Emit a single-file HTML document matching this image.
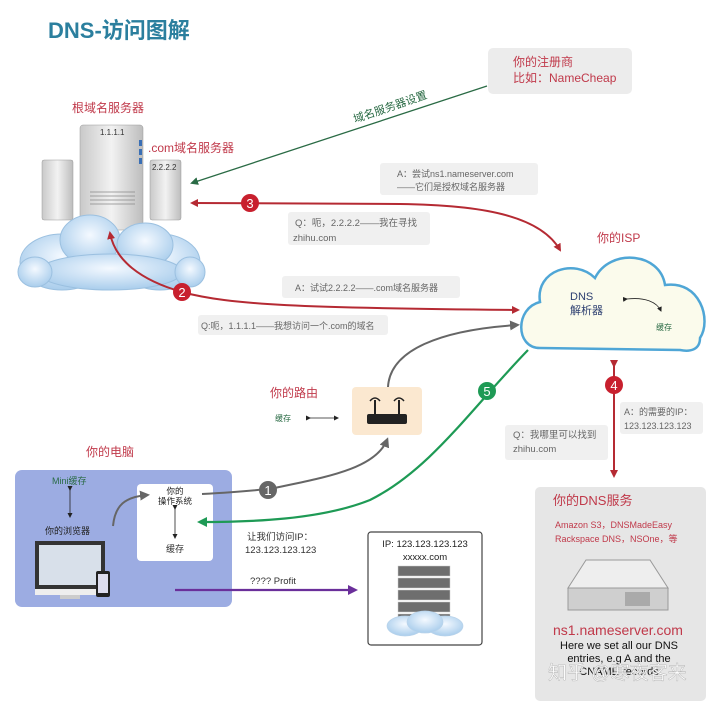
<!DOCTYPE html>
<html><head><meta charset="utf-8"><style>
body{margin:0;background:#fff}
svg{display:block;font-family:"Liberation Sans","Noto Sans CJK SC",sans-serif}
</style></head><body>
<svg width="720" height="701" viewBox="0 0 720 701" xmlns="http://www.w3.org/2000/svg">
<defs>
<marker id="ar" markerWidth="8" markerHeight="8" refX="6" refY="4" orient="auto" markerUnits="userSpaceOnUse"><path d="M0,0 L8,4 L0,8 Z" fill="#b52a33"/></marker>
<marker id="ag" markerWidth="8" markerHeight="8" refX="6" refY="4" orient="auto" markerUnits="userSpaceOnUse"><path d="M0,0 L8,4 L0,8 Z" fill="#2a6b45"/></marker>
<marker id="ag2" markerWidth="10" markerHeight="10" refX="7" refY="5" orient="auto" markerUnits="userSpaceOnUse"><path d="M0,0 L10,5 L0,10 Z" fill="#1e9a55"/></marker>
<marker id="ay" markerWidth="10" markerHeight="10" refX="7" refY="5" orient="auto" markerUnits="userSpaceOnUse"><path d="M0,0 L10,5 L0,10 Z" fill="#666"/></marker>
<marker id="ap" markerWidth="10" markerHeight="10" refX="7" refY="5" orient="auto" markerUnits="userSpaceOnUse"><path d="M0,0 L10,5 L0,10 Z" fill="#6a2f9a"/></marker>
<marker id="ak" markerWidth="5" markerHeight="5" refX="4" refY="2.5" orient="auto" markerUnits="userSpaceOnUse"><path d="M0,0 L5,2.5 L0,5 Z" fill="#222"/></marker>
<linearGradient id="sv" x1="0" x2="1"><stop offset="0" stop-color="#c9c9c9"/><stop offset=".5" stop-color="#f2f2f2"/><stop offset="1" stop-color="#bdbdbd"/></linearGradient>
<radialGradient id="cl" cx=".5" cy=".4" r=".6"><stop offset="0" stop-color="#f4f9ff"/><stop offset="1" stop-color="#a9cdec"/></radialGradient>
</defs>

<text x="48" y="38" font-size="22" font-weight="bold" fill="#2b7f9e">DNS-访问图解</text>

<rect x="488" y="48" width="144" height="46" rx="5" fill="#ececec"/>
<text x="513" y="66" font-size="12" fill="#c0394a">你的注册商</text>
<text x="513" y="82" font-size="12" fill="#c0394a">比如：NameCheap</text>
<line x1="487" y1="86" x2="192" y2="183" stroke="#2a6b45" stroke-width="1.3" marker-end="url(#ag)"/>
<text x="355" y="123" font-size="11" fill="#2a6b45" transform="rotate(-19 355 123)">域名服务器设置</text>

<text x="72" y="112" font-size="12" fill="#c0394a">根域名服务器</text>
<text x="148" y="152" font-size="12" fill="#c0394a">.com域名服务器</text>
<rect x="42" y="160" width="31" height="60" rx="2" fill="url(#sv)" stroke="#999" stroke-width=".5"/>
<rect x="150" y="160" width="31" height="60" rx="2" fill="url(#sv)" stroke="#999" stroke-width=".5"/>
<text x="152" y="170" font-size="8" fill="#333">2.2.2.2</text>
<rect x="80" y="125" width="63" height="105" rx="3" fill="url(#sv)" stroke="#999" stroke-width=".5"/>
<text x="100" y="135" font-size="8" fill="#333">1.1.1.1</text>
<rect x="139" y="140" width="3" height="6" fill="#3a6fb5"/><rect x="139" y="149" width="3" height="6" fill="#3a6fb5"/><rect x="139" y="158" width="3" height="6" fill="#3a6fb5"/>
<g stroke="#888" stroke-width=".8"><line x1="90" y1="192" x2="135" y2="192"/><line x1="90" y1="196" x2="135" y2="196"/><line x1="90" y1="200" x2="135" y2="200"/><line x1="90" y1="204" x2="135" y2="204"/></g>
<g fill="url(#cl)" stroke="#9bc0e0" stroke-width="1">
<ellipse cx="62" cy="262" rx="42" ry="28"/><ellipse cx="160" cy="262" rx="40" ry="28"/>
<ellipse cx="90" cy="240" rx="30" ry="25"/><ellipse cx="145" cy="245" rx="28" ry="22"/>
<ellipse cx="110" cy="272" rx="72" ry="18"/><ellipse cx="35" cy="272" rx="17" ry="15"/><ellipse cx="190" cy="272" rx="15" ry="15"/>
</g>

<rect x="380" y="163" width="158" height="32" rx="3" fill="#f0f0f0"/>
<text x="397" y="177" font-size="9" fill="#666">A：尝试ns1.nameserver.com</text>
<text x="397" y="190" font-size="9" fill="#666">——它们是授权域名服务器</text>
<path d="M400,204 L192,203" fill="none" stroke="#b52a33" stroke-width="2" marker-end="url(#ar)"/>
<path d="M400,204 C480,205 540,215 560,250" fill="none" stroke="#b52a33" stroke-width="2" marker-end="url(#ar)"/>
<circle cx="250" cy="203" r="9" fill="#c8202e"/><text x="250" y="208" font-size="13" fill="#fff" text-anchor="middle">3</text>
<rect x="288" y="212" width="142" height="33" rx="3" fill="#f0f0f0"/>
<text x="295" y="226" font-size="9.5" fill="#666">Q：呃，2.2.2.2——我在寻找</text>
<text x="293" y="241" font-size="9.5" fill="#666">zhihu.com</text>

<text x="597" y="242" font-size="12" fill="#c0394a">你的ISP</text>
<path d="M540,348 C515,348 515,308 540,302 C535,270 575,258 595,278 C610,248 660,252 665,285 C700,280 712,320 700,338 C700,350 690,352 680,350 Z" fill="#fbfbec" stroke="#4fa6d6" stroke-width="2.5"/>
<text x="570" y="300" font-size="11" fill="#2c3e70">DNS</text>
<text x="570" y="314" font-size="11" fill="#2c3e70">解析器</text>
<path d="M627,299 C645,297 657,302 661,311" fill="none" stroke="#222" stroke-width=".8" marker-end="url(#ak)" marker-start="url(#ak)"/>
<text x="656" y="330" font-size="8" fill="#2a6b45">缓存</text>

<rect x="282" y="276" width="178" height="22" rx="3" fill="#f0f0f0"/>
<text x="295" y="291" font-size="9" fill="#666">A：试试2.2.2.2——.com域名服务器</text>
<path d="M182,292 C140,280 115,260 110,233" fill="none" stroke="#b52a33" stroke-width="2" marker-end="url(#ar)"/>
<path d="M182,292 C230,305 300,308 518,310" fill="none" stroke="#b52a33" stroke-width="2" marker-end="url(#ar)"/>
<circle cx="182" cy="292" r="9" fill="#c8202e"/><text x="182" y="297" font-size="13" fill="#fff" text-anchor="middle">2</text>
<rect x="198" y="315" width="190" height="20" rx="3" fill="#f0f0f0"/>
<text x="201" y="329" font-size="9" fill="#666">Q:呃，1.1.1.1——我想访问一个.com的域名</text>

<path d="M388,387 C390,350 440,330 517,325" fill="none" stroke="#666" stroke-width="2" marker-end="url(#ay)"/>
<text x="270" y="397" font-size="12" fill="#c0394a">你的路由</text>
<text x="275" y="421" font-size="8" fill="#2a6b45">缓存</text>
<line x1="310" y1="418" x2="338" y2="418" stroke="#222" stroke-width=".8" marker-end="url(#ak)" marker-start="url(#ak)"/>
<rect x="352" y="387" width="70" height="48" rx="4" fill="#fbe8d0"/>
<rect x="367" y="414" width="40" height="10" rx="2" fill="#222"/>
<line x1="375" y1="414" x2="375" y2="400" stroke="#222" stroke-width="2"/><line x1="399" y1="414" x2="399" y2="400" stroke="#222" stroke-width="2"/>
<path d="M370,401 Q375,395 380,401 M394,401 Q399,395 404,401" fill="none" stroke="#222" stroke-width="1.5"/>

<line x1="614" y1="366" x2="614" y2="476" stroke="#b52a33" stroke-width="2" marker-end="url(#ar)" marker-start="url(#ar)"/>
<circle cx="614" cy="385" r="9" fill="#c8202e"/><text x="614" y="390" font-size="13" fill="#fff" text-anchor="middle">4</text>
<rect x="620" y="402" width="83" height="32" rx="3" fill="#f0f0f0"/>
<text x="624" y="415" font-size="9" fill="#666">A：的需要的IP：</text>
<text x="624" y="429" font-size="9" fill="#666">123.123.123.123</text>
<rect x="505" y="425" width="103" height="35" rx="3" fill="#f0f0f0"/>
<text x="513" y="438" font-size="9.5" fill="#666">Q：我哪里可以找到</text>
<text x="513" y="452" font-size="9.5" fill="#666">zhihu.com</text>

<text x="86" y="456" font-size="12" fill="#c0394a">你的电脑</text>
<rect x="15" y="470" width="217" height="137" rx="7" fill="#9cace2"/>
<text x="52" y="484" font-size="9" fill="#2a6b45">Mini缓存</text>
<line x1="70" y1="490" x2="70" y2="517" stroke="#222" stroke-width=".8" marker-end="url(#ak)" marker-start="url(#ak)"/>
<text x="45" y="534" font-size="9" fill="#222">你的浏览器</text>
<rect x="35" y="541" width="70" height="48" fill="#333"/><rect x="39" y="545" width="62" height="40" fill="#d8e0ea"/>
<rect x="35" y="589" width="70" height="6" fill="#eee"/><rect x="60" y="595" width="20" height="4" fill="#ccc"/>
<rect x="96" y="571" width="14" height="26" rx="2" fill="#222"/><rect x="98" y="574" width="10" height="19" fill="#dde"/>
<rect x="137" y="484" width="76" height="77" rx="4" fill="#fff"/>
<text x="175" y="494" font-size="8.5" fill="#222" text-anchor="middle">你的</text>
<text x="175" y="504" font-size="8.5" fill="#222" text-anchor="middle">操作系统</text>
<line x1="175" y1="509" x2="175" y2="538" stroke="#222" stroke-width=".8" marker-end="url(#ak)" marker-start="url(#ak)"/>
<text x="175" y="552" font-size="9" fill="#333" text-anchor="middle">缓存</text>
<path d="M113,526 C115,505 125,497 147,495" fill="none" stroke="#666" stroke-width="2" marker-end="url(#ay)"/>
<path d="M202,494 C240,492 260,490 275,488 C320,478 375,470 387,440" fill="none" stroke="#666" stroke-width="2" marker-end="url(#ay)"/>
<circle cx="268" cy="490" r="9" fill="#666"/><text x="268" y="495" font-size="13" fill="#fff" text-anchor="middle">1</text>

<path d="M528,350 C470,410 430,470 370,500 C320,520 250,522 200,522" fill="none" stroke="#1e9a55" stroke-width="2.2" marker-end="url(#ag2)"/>
<circle cx="487" cy="391" r="9" fill="#1e9a55"/><text x="487" y="396" font-size="13" fill="#fff" text-anchor="middle">5</text>

<text x="247" y="540" font-size="9.5" fill="#333">让我们访问IP：</text>
<text x="245" y="553" font-size="9.5" fill="#333">123.123.123.123</text>
<text x="250" y="584" font-size="9.5" fill="#333">???? Profit</text>
<line x1="175" y1="590" x2="355" y2="590" stroke="#6a2f9a" stroke-width="2.2" marker-end="url(#ap)"/>

<rect x="368" y="532" width="114" height="113" rx="3" fill="#fff" stroke="#444" stroke-width="1.2"/>
<text x="425" y="547" font-size="9.5" fill="#222" text-anchor="middle">IP: 123.123.123.123</text>
<text x="425" y="560" font-size="9.5" fill="#222" text-anchor="middle">xxxxx.com</text>
<g fill="#6e6e6e" stroke="#ccc" stroke-width=".5">
<rect x="398" y="566" width="52" height="10"/><rect x="398" y="578" width="52" height="10"/><rect x="398" y="590" width="52" height="10"/><rect x="398" y="602" width="52" height="10"/><rect x="398" y="614" width="52" height="10"/></g>
<g fill="url(#cl)" stroke="#b9d3ea" stroke-width=".7"><ellipse cx="405" cy="626" rx="18" ry="10"/><ellipse cx="445" cy="626" rx="18" ry="10"/><ellipse cx="425" cy="622" rx="18" ry="11"/></g>

<rect x="535" y="487" width="171" height="214" rx="5" fill="#e6e6e6"/>
<text x="553" y="505" font-size="13" fill="#c0394a">你的DNS服务</text>
<text x="555" y="528" font-size="9" fill="#c0394a">Amazon S3，DNSMadeEasy</text>
<text x="555" y="542" font-size="9" fill="#c0394a">Rackspace DNS，NSOne，等</text>
<path d="M586,560 L650,560 L668,588 L568,588 Z" fill="#eee" stroke="#999"/>
<rect x="568" y="588" width="100" height="22" fill="#cfcfcf" stroke="#999"/>
<rect x="625" y="592" width="25" height="14" fill="#aaa"/>
<text x="618" y="635" font-size="14" fill="#c0394a" text-anchor="middle">ns1.nameserver.com</text>
<text x="619" y="649" font-size="11" fill="#111" text-anchor="middle">Here we set all our DNS</text>
<text x="619" y="662" font-size="11" fill="#111" text-anchor="middle">entries, e.g A and the</text>
<text x="619" y="675" font-size="11" fill="#111" text-anchor="middle">CNAME records</text>
<text x="548" y="679" font-size="19" fill="#fff" stroke="#aaa" stroke-width=".4" opacity=".9">知乎 @寒夜客来</text>
</svg>
</body></html>
